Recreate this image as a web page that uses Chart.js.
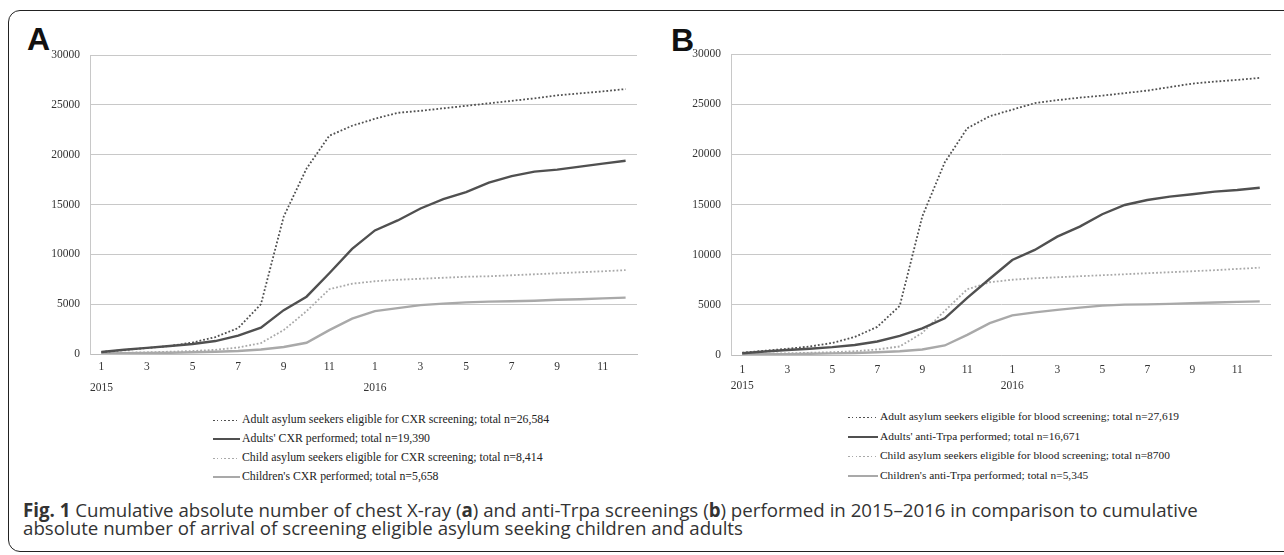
<!DOCTYPE html>
<html>
<head>
<meta charset="utf-8">
<script src="https://cdn.jsdelivr.net/npm/chart.js@4.4.0/dist/chart.umd.min.js"></script>
<style>
  body { margin: 0; background: #fff; width: 1284px; height: 555px; overflow: hidden; position: relative; font-family: 'Liberation Serif', 'Times New Roman', serif; }
  #marco { position: absolute; left: 8px; top: 10px; width: 1300px; height: 540px; border: 1.5px solid #222; border-radius: 12px; }
  .panel { position: absolute; }
  .letra { position: absolute; font: bold 32px 'Liberation Sans', Arial, sans-serif; line-height: 32px; color: #111; }
  .leyenda { position: absolute; color: #222; }
  .fila { white-space: nowrap; }
  .muestra { display: inline-block; vertical-align: middle; margin-right: 2px; }
  #pie { position: absolute; left: 23px; top: 500.5px; font-family: 'Open Sans', sans-serif; font-size: 18.7px; line-height: 18px; color: #333; white-space: nowrap; }
</style>
</head>
<body>
<div id="marco"></div>

<div class="letra" style="left:27px; top:23px;">A</div>
<div class="letra" style="left:671px; top:24px;">B</div>

<div class="panel" style="left:10px; top:20px;"><canvas id="graficoA" width="629" height="379"></canvas></div>
<div class="panel" style="left:651px; top:19px;"><canvas id="graficoB" width="622" height="381"></canvas></div>

<div class="leyenda" id="leyendaA" style="left:213px; top:410px; font-size:11.8px;"></div>
<div class="leyenda" id="leyendaB" style="left:848px; top:407px; font-size:11.4px;"></div>

<div id="pie"><b>Fig. 1</b> Cumulative absolute number of chest X-ray (<b>a</b>) and anti-Trpa screenings (<b>b</b>) performed in 2015–2016 in comparison to cumulative<br>absolute number of arrival of screening eligible asylum seeking children and adults</div>

<script>
// meses ene 2015 - dic 2016
const meses = ['1','2','3','4','5','6','7','8','9','10','11','12','1','2','3','4','5','6','7','8','9','10','11','12'];
const anios = ['2015','','','','','','','','','','','','2016','','','','','','','','','','',''];
const ticksY = [0, 5000, 10000, 15000, 20000, 25000, 30000];

// panel A: radiografia de torax (CXR)
const adultosElegiblesRx = [200, 400, 600, 800, 1150, 1700, 2600, 5000, 13800, 18600, 21900, 22900, 23600, 24200, 24400, 24650, 24900, 25150, 25400, 25650, 25950, 26150, 26350, 26584];
const adultosRx = [200, 420, 620, 800, 1000, 1300, 1850, 2650, 4400, 5750, 8100, 10550, 12400, 13400, 14600, 15550, 16250, 17200, 17850, 18300, 18500, 18800, 19100, 19390];
const ninosElegiblesRx = [100, 130, 170, 230, 300, 420, 650, 1100, 2400, 4300, 6500, 7050, 7300, 7450, 7550, 7650, 7750, 7800, 7900, 8000, 8100, 8200, 8300, 8414];
const ninosRx = [50, 70, 100, 130, 170, 220, 300, 450, 700, 1130, 2400, 3550, 4300, 4600, 4900, 5050, 5180, 5250, 5300, 5350, 5450, 5500, 5580, 5658];

// panel B: anti-Trpa
const adultosElegiblesSangre = [230, 420, 620, 850, 1200, 1800, 2800, 4900, 13800, 19200, 22600, 23800, 24450, 25100, 25400, 25650, 25850, 26100, 26350, 26700, 27050, 27250, 27420, 27619];
const adultosTrpa = [170, 350, 500, 620, 780, 1000, 1350, 1900, 2660, 3660, 5700, 7600, 9470, 10470, 11800, 12790, 14030, 14950, 15450, 15780, 16020, 16280, 16450, 16671];
const ninosElegiblesSangre = [100, 130, 170, 220, 280, 380, 550, 850, 2200, 4400, 6550, 7250, 7500, 7650, 7750, 7850, 7950, 8050, 8150, 8250, 8350, 8450, 8580, 8700];
const ninosTrpa = [50, 70, 90, 120, 160, 200, 280, 380, 550, 950, 2000, 3170, 3950, 4250, 4500, 4720, 4920, 5020, 5050, 5100, 5170, 5230, 5290, 5345];

const etiquetasA = [
  'Adult asylum seekers eligible for CXR screening; total n=26,584',
  "Adults' CXR performed; total n=19,390",
  'Child asylum seekers eligible for CXR screening; total n=8,414',
  "Children's CXR performed; total n=5,658"
];
const etiquetasB = [
  'Adult asylum seekers eligible for blood screening; total n=27,619',
  "Adults' anti-Trpa performed; total n=16,671",
  'Child asylum seekers eligible for blood screening; total n=8700',
  "Children's anti-Trpa performed; total n=5,345"
];

const oscuro = '#505050';
const claro = '#a9a9a9';
const fuente = "'Liberation Serif', 'Times New Roman', serif";

function serie(label, data, color, punteada) {
  return {
    label: label,
    data: data,
    borderColor: color,
    backgroundColor: color,
    borderWidth: punteada ? 1.8 : 2.4,
    borderDash: punteada ? [1.8, 2] : [],
    pointRadius: 0,
    tension: 0,
    fill: false
  };
}

function crearGrafico(canvas, etiquetas, valores, alturaLinea, paddingX) {
  const datasets = [
    serie(etiquetas[0], valores[0], oscuro, true),
    serie(etiquetas[1], valores[1], oscuro, false),
    serie(etiquetas[2], valores[2], claro, true),
    serie(etiquetas[3], valores[3], claro, false)
  ];
  return new Chart(canvas, {
    type: 'line',
    data: { labels: meses, datasets: datasets },
    options: {
      responsive: false,
      animation: false,
      layout: { padding: { top: 35, right: 2, left: 0, bottom: 0 } },
      plugins: { legend: { display: false }, tooltip: { enabled: false } },
      scales: {
        x: {
          offset: true,
          grid: { display: false, drawTicks: false },
          border: { color: '#bdbdbd' },
          ticks: {
            autoSkip: false,
            maxRotation: 0,
            padding: paddingX,
            color: '#333',
            font: { family: fuente, size: 11.5, lineHeight: alturaLinea },
            callback: (valor, i) => i % 2 === 0 ? [meses[i], anios[i]] : ''
          },
          afterFit: (s) => { s.height = 45; }
        },
        y: {
          min: ticksY[0],
          max: ticksY[ticksY.length - 1],
          afterBuildTicks: (s) => { s.ticks = ticksY.map(v => ({ value: v })); },
          grid: { color: '#c8c8c8', drawTicks: false },
          border: { color: '#c8c8c8' },
          ticks: {
            padding: 10,
            color: '#333',
            font: { family: fuente, size: 11.5 },
            callback: (valor) => String(valor)
          },
          afterFit: (s) => { s.width = 80; }
        }
      }
    }
  });
}

// leyenda en html a partir de los datasets
function renderLeyenda(chart, contenedor, altoFila, anchoMuestra) {
  let template = '';
  chart.data.datasets.forEach((ds) => {
    let estilo = `width:${anchoMuestra}px;`;
    if (ds.borderDash.length) {
      estilo += `height:1.6px; background: repeating-linear-gradient(90deg, ${ds.borderColor} 0 1.6px, transparent 1.6px 3.8px);`;
    } else {
      estilo += `height:2.4px; background:${ds.borderColor};`;
    }
    template += `<div class="fila" style="height:${altoFila}px; line-height:${altoFila}px;"><span class="muestra" style="${estilo}"></span>${ds.label}</div>`;
  });
  contenedor.innerHTML = template;
}

const graficoA = crearGrafico(document.querySelector('#graficoA'), etiquetasA,
  [adultosElegiblesRx, adultosRx, ninosElegiblesRx, ninosRx], 1.8, 3);
const graficoB = crearGrafico(document.querySelector('#graficoB'), etiquetasB,
  [adultosElegiblesSangre, adultosTrpa, ninosElegiblesSangre, ninosTrpa], 1.4, 7);

renderLeyenda(graficoA, document.querySelector('#leyendaA'), 19, 27);
renderLeyenda(graficoB, document.querySelector('#leyendaB'), 19.6, 30);
</script>
</body>
</html>
